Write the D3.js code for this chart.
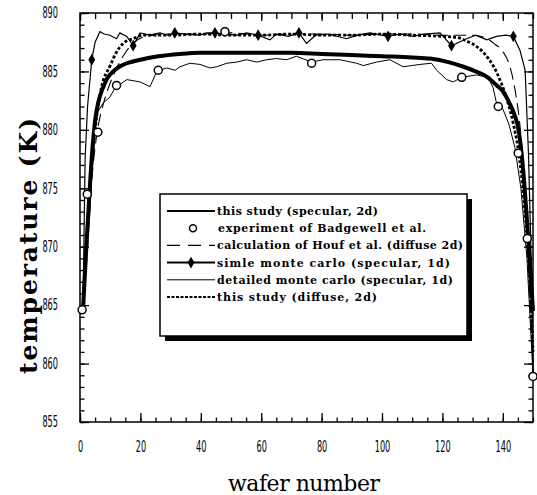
<!DOCTYPE html>
<html>
<head>
<meta charset="utf-8">
<script src="https://cdn.jsdelivr.net/npm/d3@7"></script>
<style>
body { margin: 0; background: #fff; }
svg { display: block; }
</style>
</head>
<body>
<script>
// this study (specular, 2d) - thick solid
let specX = [1,2,3,4,5,6,7.6,9,11,13,15.5,20,26,33,40,50,60,70,80,90,100,110,116,122,127,131,135,138,140,142,144,145,146,147,148,149,150];
let specT = [864.6,869.5,874,878,880.8,882.3,883.6,884.4,885,885.4,885.7,886,886.3,886.5,886.6,886.6,886.6,886.6,886.5,886.4,886.3,886.2,886.1,885.8,885.4,885,884.5,883.8,883.3,882.4,881.2,880.3,878.5,875.8,872.3,868.5,864.5];

// experiment of Badgewell et al. - open circles
let expX = [0.7,2.4,5.9,12.1,25.9,48,76.7,126.4,138.5,145.1,148.1,150];
let expT = [864.6,874.5,879.8,883.8,885.1,888.4,885.7,884.5,882.0,878.0,870.7,858.9];

// calculation of Houf et al. (diffuse 2d) - long dash
let houfX = [1,2,3,4,5,6,7,9,12,15,18,22,30,40,50,60,70,80,90,100,110,120,130,134,137,140,142,144,146,147.5,148.8,150];
let houfT = [865,868,872,876,878.5,880.3,881.5,883.3,885.2,886.6,887.5,888,888.2,888.2,888.3,888.1,888.2,888.2,888.1,888.2,888.2,888.1,888.1,887.9,887.4,886.7,885.7,883.5,879.5,874,867,860];

// simle monte carlo (specular, 1d) - solid + diamonds
let smcX = [1,1.7,2.5,3.9,5,6.6,8,9.9,12.1,13.2,15.5,17.6,19.9,23,26.5,29,31.4,35,39.7,42,44.7,48,52,55.2,59,62.9,65,69,72.5,75,78,82,88.3,92,96,102,106,110.3,114,119.2,123,128,131,134.7,137.9,141,143.5,145.7,147.4,148.5,149.3,150];
let smcT = [865,877.6,882,886,887.5,888.4,888.2,888.1,887.8,888.3,888,887.2,888.3,888.1,888.3,888.1,888.3,888.2,888.1,888.3,888.3,888.2,888.1,888.3,888.1,887.7,888.2,888,888.3,887.4,888.1,888.2,887.8,888.1,888.3,888,888.2,888,888.2,888.3,887.2,887.8,888.1,887.7,888,888.1,888,886.8,885.1,878,870,859];
let smcMarkX = [3.9,17.6,31.4,44.7,59,72.5,102,123,143.5];
let smcMarkT = [886,887.2,888.3,888.3,888.1,888.3,888,887.2,888];

// detailed monte carlo (specular, 1d) - thin solid
let dmcX = [1,2,3,4,5,5.5,7.7,9.9,11.6,15.5,19.9,23.2,25.4,28.7,31.5,33.1,36.4,39.7,43,45.3,48.6,51.9,55.2,58.5,61.8,65.1,68.4,71.7,76.7,80.5,86,91.6,93.8,98.2,102.6,107,112.6,116.4,118.1,121.4,123.6,126.4,131.3,135.2,136.8,137.9,140,142,144,146,148,150];
let dmcT = [864.8,869,873,877,880,881.4,882.3,882.8,883.6,884.3,884.1,883.7,885,885.3,885.1,885.4,885.7,885.6,885.3,885.4,885.7,885.8,886,885.8,886,886.1,886,886.3,885.8,886,886,885.7,885.5,885.8,886,885.4,885.6,885.7,885.1,884.3,884.1,884.5,884.7,884.5,883.6,882.3,881.8,880.5,878.5,875,869,859];

// this study (diffuse, 2d) - thick dotted
let difX = [1,3,5,7,10,12,14.3,17.6,21,30,40,50,60,70,80,90,100,110,120,125,128,131,134,137,139.5,141.5,143.5,145,147,148.5,149.5,150];
let difT = [865,874,880,883.5,885.5,886.6,887.4,887.8,888.1,888.1,888.2,888.1,888.1,888.2,888.1,888.1,888.2,888.1,888,887.9,887.6,887.2,886.5,885.4,884,882.5,880.5,878.5,874,869,864,861];

let xTicks = [0,20,40,60,80,100,120,140];
let yTicks = [855,860,865,870,875,880,885,890];
let legendLabels = [
	"this study (specular, 2d)",
	"experiment of Badgewell et al.",
	"calculation of Houf et al. (diffuse 2d)",
	"simle monte carlo (specular, 1d)",
	"detailed monte carlo (specular, 1d)",
	"this study (diffuse, 2d)"
];
let legendWidths = [161,208,246,233,236,160];

let width = 537, height = 495;
let pLeft = 80, pRight = 533, pTop = 13, pBottom = 422;

const svg = d3.select("body").append("svg").attr("width", width).attr("height", height);

let x = d3.scaleLinear().domain([0,150]).range([pLeft,pRight]);
let y = d3.scaleLinear().domain([855,890]).range([pBottom,pTop]);

const tickFont = "'Liberation Sans Narrow','DejaVu Sans Condensed','DejaVu Sans',sans-serif";

// axes, ticks pointing inward; labels squeezed to a narrow face
let styleAxis = (g) => {
	g.select('.domain').remove();
	g.selectAll('line').attr('stroke','#000').attr('stroke-width',1.3);
	g.selectAll('text').attr('font-family', tickFont).attr('font-size', 15).attr('fill','#000')
		.attr('textLength', function(){ return this.textContent.length * 5.2; }).attr('lengthAdjust','spacingAndGlyphs');
}

svg.append('g').attr('transform','translate(0,' + pBottom + ')')
	.call(d3.axisBottom(x).tickValues(d3.range(0,151,5)).tickSize(-4.5).tickFormat('')).call(styleAxis);
svg.append('g').attr('transform','translate(0,' + pBottom + ')')
	.call(d3.axisBottom(x).tickValues(xTicks).tickSize(-9).tickPadding(19).tickFormat(d3.format('d'))).call(styleAxis);
svg.append('g').attr('transform','translate(0,' + pTop + ')')
	.call(d3.axisTop(x).tickValues(d3.range(0,151,5)).tickSize(-6).tickFormat('')).call(styleAxis);
svg.append('g').attr('transform','translate(0,' + pTop + ')')
	.call(d3.axisTop(x).tickValues(xTicks).tickSize(-8).tickFormat('')).call(styleAxis);

svg.append('g').attr('transform','translate(' + pLeft + ',0)')
	.call(d3.axisLeft(y).tickValues(d3.range(855,891,1)).tickSize(-4.5).tickFormat('')).call(styleAxis);
svg.append('g').attr('transform','translate(' + pLeft + ',0)')
	.call(d3.axisLeft(y).tickValues(yTicks).tickSize(-9).tickPadding(22).tickFormat(d3.format('d'))).call(styleAxis);
svg.append('g').attr('transform','translate(' + pRight + ',0)')
	.call(d3.axisRight(y).tickValues(d3.range(855,891,1)).tickSize(-4.5).tickFormat('')).call(styleAxis);
svg.append('g').attr('transform','translate(' + pRight + ',0)')
	.call(d3.axisRight(y).tickValues(yTicks).tickSize(-9).tickFormat('')).call(styleAxis);

svg.append('rect').attr('x',pLeft).attr('y',pTop).attr('width',pRight-pLeft).attr('height',pBottom-pTop)
	.attr('fill','none').attr('stroke','#000').attr('stroke-width',1.5);

// series
let pts = (xs, ts) => xs.map((v,i) => [v, ts[i]]);
let smooth = d3.line().x(d => x(d[0])).y(d => y(d[1])).curve(d3.curveMonotoneX);
let straight = d3.line().x(d => x(d[0])).y(d => y(d[1]));

const plot = svg.append('g');
plot.append('path').attr('d', straight(pts(dmcX,dmcT))).attr('fill','none').attr('stroke','#000').attr('stroke-width',1);
plot.append('path').attr('d', smooth(pts(houfX,houfT))).attr('fill','none').attr('stroke','#000').attr('stroke-width',1.1).attr('stroke-dasharray','12,6');
plot.append('path').attr('d', straight(pts(smcX,smcT))).attr('fill','none').attr('stroke','#000').attr('stroke-width',1.2);
plot.append('path').attr('d', smooth(pts(difX,difT))).attr('fill','none').attr('stroke','#000').attr('stroke-width',2.8).attr('stroke-dasharray','3,2');
plot.append('path').attr('d', smooth(pts(specX,specT))).attr('fill','none').attr('stroke','#000').attr('stroke-width',4);

let diamond = d3.symbol().type(d3.symbolDiamond).size(40);
plot.selectAll('.dia').data(pts(smcMarkX,smcMarkT)).enter().append('path').attr('class','dia')
	.attr('d', diamond).attr('transform', d => 'translate(' + x(d[0]) + ',' + y(d[1]) + ')').attr('fill','#000');

plot.selectAll('.exp').data(pts(expX,expT)).enter().append('circle').attr('class','exp')
	.attr('cx', d => x(d[0])).attr('cy', d => y(d[1])).attr('r',4)
	.attr('fill','#fff').attr('stroke','#000').attr('stroke-width',1.5);

// legend
const lg = svg.append('g');
let lx = 160, ly = 194, lw = 307, lh = 142;
lg.append('rect').attr('x',lx+5).attr('y',ly+5).attr('width',lw).attr('height',lh).attr('fill','#000');
lg.append('rect').attr('x',lx).attr('y',ly).attr('width',lw).attr('height',lh).attr('fill','#fff').attr('stroke','#000').attr('stroke-width',1.5);

let rowY = (i) => ly + 17 + i * 17.2;
let s0 = 167, s1 = 215;
lg.append('line').attr('x1',s0).attr('x2',s1).attr('y1',rowY(0)).attr('y2',rowY(0)).attr('stroke','#000').attr('stroke-width',2.2);
lg.append('circle').attr('cx',193).attr('cy',rowY(1)).attr('r',3.5).attr('fill','#fff').attr('stroke','#000').attr('stroke-width',1.5);
lg.append('line').attr('x1',s0).attr('x2',s1).attr('y1',rowY(2)).attr('y2',rowY(2)).attr('stroke','#000').attr('stroke-width',1.1).attr('stroke-dasharray','13,8');
lg.append('line').attr('x1',s0).attr('x2',s1).attr('y1',rowY(3)).attr('y2',rowY(3)).attr('stroke','#000').attr('stroke-width',2);
lg.append('path').attr('d', diamond).attr('transform','translate(191,' + rowY(3) + ')').attr('fill','#000');
lg.append('line').attr('x1',s0).attr('x2',s1).attr('y1',rowY(4)).attr('y2',rowY(4)).attr('stroke','#000').attr('stroke-width',1);
lg.append('line').attr('x1',s0).attr('x2',s1).attr('y1',rowY(5)).attr('y2',rowY(5)).attr('stroke','#000').attr('stroke-width',2).attr('stroke-dasharray','3,1.5');

lg.selectAll('.ltxt').data(legendLabels).enter().append('text').attr('class','ltxt')
	.attr('x', (d,i) => i == 1 ? 218 : 217).attr('y', (d,i) => rowY(i) + 4)
	.attr('textLength', (d,i) => legendWidths[i]).attr('lengthAdjust','spacing')
	.attr('font-family',"'DejaVu Serif','Liberation Serif',serif").attr('font-size',11).attr('font-weight',600)
	.attr('fill','#000').text(d => d);

// axis titles
svg.append('text').attr('x',304).attr('y',491).attr('text-anchor','middle')
	.attr('textLength',152).attr('lengthAdjust','spacing')
	.attr('font-family',"'DejaVu Serif','Liberation Serif',serif").attr('font-size',22).attr('fill','#000')
	.text('wafer number');
svg.append('text').attr('transform','translate(37,246) rotate(-90)').attr('text-anchor','middle')
	.attr('textLength',256).attr('lengthAdjust','spacing')
	.attr('font-family',"'DejaVu Serif','Liberation Serif',serif").attr('font-size',25).attr('font-weight','bold').attr('fill','#000')
	.text('temperature (K)');
</script>
</body>
</html>
